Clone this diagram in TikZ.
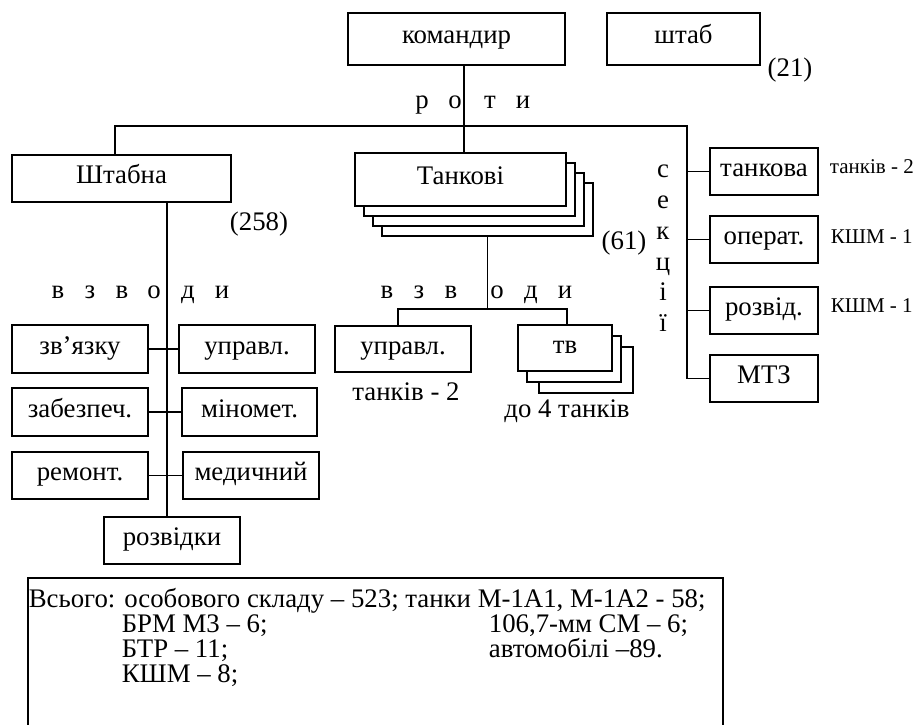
\documentclass[tikz,border=0pt]{standalone}
\usepackage{fontspec}
\setmainfont{Liberation Serif}
\begin{document}
\begin{tikzpicture}[x=1pt,y=-1pt, line width=1.7pt,
  box/.style={draw, rectangle, inner sep=0pt, text height=18pt, text depth=8pt, font=\fontsize{26.8}{28}\selectfont},
  shadowbox/.style={draw, rectangle, fill=white, inner sep=0pt},
  lbl/.style={inner sep=0pt, font=\fontsize{26.8}{28}\selectfont},
  tline/.style={inner sep=0pt, anchor=base west, text height=15pt, text depth=4pt, font=\fontsize{26.8}{25}\selectfont},
  slbl/.style={inner sep=0pt, font=\fontsize{21}{23}\selectfont},
]
\useasboundingbox (0,0) rectangle (915,725);

% top
\node[box, minimum width=217pt, minimum height=52pt] (kom) at (456.5,39) {командир};
\node[box, minimum width=153pt, minimum height=52pt] (shtab) at (683.5,39) {штаб};
\node[lbl] (n21) at (790,70) {(21)};

% "р о т и"
\foreach \ch/\xx [count=\i] in {р/422,о/455,т/490,и/523}
  \node[lbl, anchor=base] (roty\i) at (\xx,108) {\ch};

% companies
\node[box, minimum width=219pt, minimum height=47pt] (shtabna) at (121.5,178.5) {Штабна};
\node[shadowbox, minimum width=211pt, minimum height=53pt] (tk4) at (487.5,209.5) {};
\node[shadowbox, minimum width=211pt, minimum height=53pt] (tk3) at (478.5,199.5) {};
\node[shadowbox, minimum width=211pt, minimum height=53pt] (tk2) at (469.5,189.5) {};
\node[box, fill=white, minimum width=211pt, minimum height=53pt] (tk1) at (460.5,179.5) {Танкові};
\node[lbl] (n258) at (259,224) {(258)};
\node[lbl] (n61) at (624,243) {(61)};

% sections
\node[box, minimum width=108pt, minimum height=47pt] (tank) at (764,171.5) {танкова};
\node[box, minimum width=108pt, minimum height=47pt] (oper) at (764,239.5) {операт.};
\node[box, minimum width=108pt, minimum height=47pt] (rozv) at (764,310.5) {розвід.};
\node[box, minimum width=108pt, minimum height=47pt] (mtz) at (764,378.5) {МТЗ};
\node[slbl, anchor=base west] (ltank) at (829,173) {танків - 2};
\node[slbl, anchor=base west] (loper) at (830,243) {КШМ - 1};
\node[slbl, anchor=base west] (lrozv) at (830,312) {КШМ - 1};
\foreach \ch/\yy [count=\i] in {с/177,е/208,к/239,ц/270,і/300,ї/331}
  \node[lbl, anchor=base] (sek\i) at (663,\yy) {\ch};

% HQ company platoons
\foreach \ch/\xx [count=\i] in {в/58,з/90,в/122,о/154,д/188,и/222}
  \node[lbl, anchor=base] (vzl\i) at (\xx,298) {\ch};
\node[box, minimum width=136pt, minimum height=48pt] (zv) at (80,349) {зв’язку};
\node[box, minimum width=136pt, minimum height=48pt] (upl) at (247,349) {управл.};
\node[box, minimum width=136pt, minimum height=48pt] (zab) at (80,412) {забезпеч.};
\node[box, minimum width=135pt, minimum height=48pt] (min) at (249.5,412) {міномет.};
\node[box, minimum width=136pt, minimum height=47pt] (rem) at (80,475.5) {ремонт.};
\node[box, minimum width=136pt, minimum height=47pt] (med) at (251,475.5) {медичний};
\node[box, minimum width=136pt, minimum height=47pt] (rozvk) at (172,540.5) {розвідки};

% tank company platoons
\foreach \ch/\xx [count=\i] in {в/387,з/419,в/451,о/497,д/531,и/565}
  \node[lbl, anchor=base] (vzm\i) at (\xx,298) {\ch};
\node[box, minimum width=136pt, minimum height=46pt] (upm) at (403,349) {управл.};
\node[shadowbox, minimum width=94pt, minimum height=46pt] (tv3) at (586,370) {};
\node[shadowbox, minimum width=94pt, minimum height=46pt] (tv2) at (574,359) {};
\node[box, fill=white, minimum width=94pt, minimum height=46pt] (tv1) at (565,348) {тв};
\node[lbl, anchor=base] (lupm) at (406,400) {танків - 2};
\node[lbl, anchor=base] (ltv) at (567,417) {до 4 танків};

% connectors
\coordinate (kb) at ([xshift=7.5pt]kom.south);
\draw (kb) -- (kb |- tk1.north);
\coordinate (hl) at (115,126);
\coordinate (hr) at (687,126);
\draw (shtabna.north -| hl) -- (hl) -- (hr) |- (mtz.west);
\draw (tank.west) -- (tank.west -| hr);
\draw (oper.west) -- (oper.west -| hr);
\draw (rozv.west) -- (rozv.west -| hr);

\coordinate (vs) at ([xshift=45.5pt]shtabna.south);
\draw (vs) -- (vs |- rozvk.north);
\draw (zv.east) -- (upl.west);
\draw (zab.east) -- (min.west);
\draw (rem.east) -- (med.west);

\coordinate (ml) at (398,309);
\coordinate (mr) at (567,309);
\draw (tk4.south) -- (tk4.south |- ml);
\draw (upm.north -| ml) -- (ml) -- (mr) -- (mr |- tv1.north);

% totals
\node[draw, inner sep=0pt, minimum width=695pt, minimum height=170pt, anchor=north west] (total) at (27,577) {};
\node[tline] (t1) at (28,607) {Всього: особового складу – 523; танки М-1А1, М-1А2 - 58;};
\node[tline] (t2) at (121,632) {БРМ М3 – 6;};
\node[tline] (t3) at (121,657) {БТР – 11;};
\node[tline] (t4) at (121,682) {КШМ – 8;};
\node[tline] (t5) at (488,632) {106,7-мм СМ – 6;};
\node[tline] (t6) at (488,657) {автомобілі –89.};
\end{tikzpicture}
\end{document}
